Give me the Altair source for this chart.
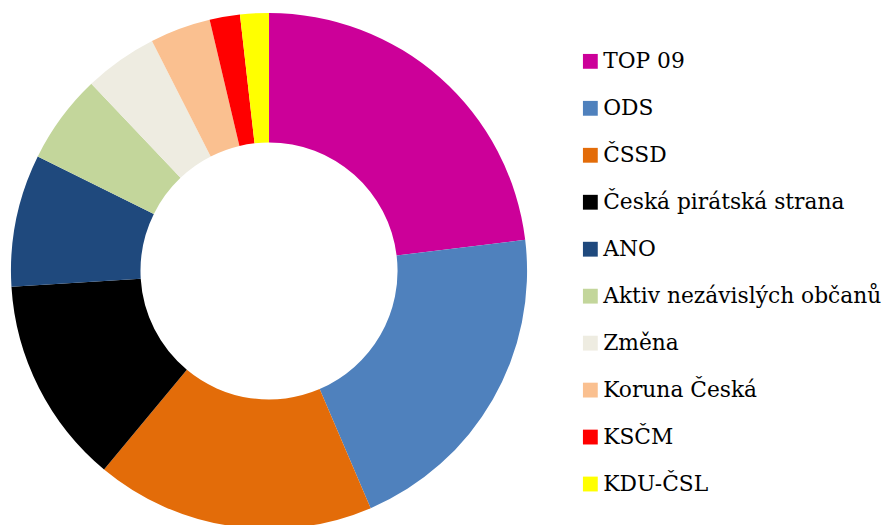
import altair as alt
import pandas as pd

parties = ["TOP 09", "ODS", "ČSSD", "Česká pirátská strana", "ANO",
           "Aktiv nezávislých občanů", "Změna", "Koruna Česká", "KSČM", "KDU-ČSL"]
values = [23.1, 20.5, 17.5, 13.0, 8.3, 5.6, 4.6, 3.8, 1.9, 1.8]
colors = ["#CC0099", "#4F81BD", "#E36C09", "#000000", "#1F497D",
          "#C3D69B", "#EEECE1", "#FAC090", "#FF0000", "#FFFF00"]

df = pd.DataFrame({"party": parties, "value": values, "order": list(range(len(parties)))})

chart = alt.Chart(df).mark_arc(outerRadius=261, innerRadius=130, stroke=None).encode(
    theta=alt.Theta("value:Q", stack=True),
    order=alt.Order("order:Q"),
    color=alt.Color("party:N", sort=parties,
                    scale=alt.Scale(domain=parties, range=colors),
                    legend=alt.Legend(title=None, orient="none", legendX=573, legendY=35,
                                      symbolType="square", symbolSize=225, symbolStrokeWidth=0,
                                      labelFont="DejaVu Serif", labelFontSize=22,
                                      labelColor="#000000", labelOffset=2, rowPadding=25.5,
                                      padding=0, labelLimit=400)),
    x=alt.value(259),
    y=alt.value(258),
).properties(
    width=876, height=509, autosize=alt.AutoSizeParams(type="none")
).configure_view(stroke=None)

chart.save("out.html", embed_options={"renderer": "svg", "actions": False})
